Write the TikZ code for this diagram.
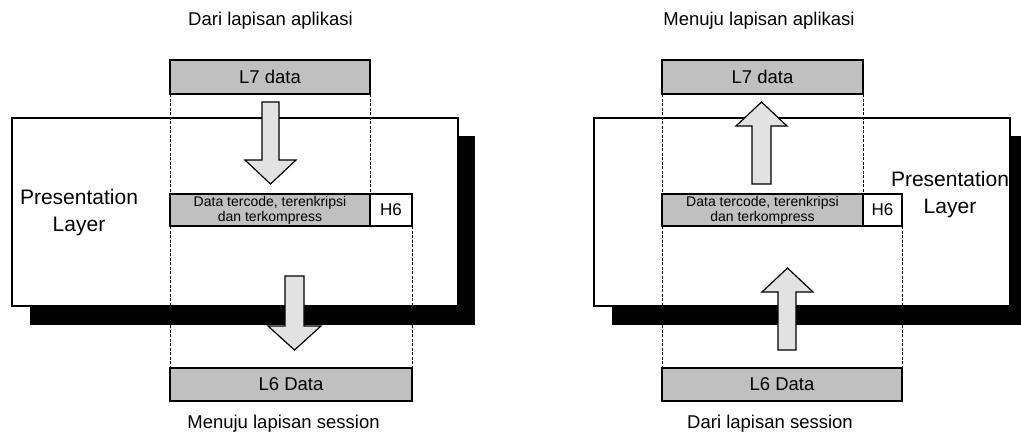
\documentclass[tikz,border=0pt]{standalone}
\usepackage{fontspec}
\setmainfont{Liberation Sans}
\definecolor{boxgray}{HTML}{C0C0C0}
\definecolor{arrowgray}{HTML}{E2E2E2}
\begin{document}
\begin{tikzpicture}[x=1pt,y=-1pt,
  layerbox/.style={draw=black, line width=1.2pt, fill=white},
  layershadow/.style={fill=black},
  pdu/.style={draw=black, line width=1.4pt, fill=boxgray, inner sep=0pt, outer sep=0pt,
    anchor=north west, font=\fontsize{18.5}{20}\selectfont},
  payload/.style={pdu, font=\fontsize{14}{15}\selectfont, align=center},
  header/.style={pdu, fill=white, font=\fontsize{17}{19}\selectfont},
  guide/.style={line width=0.8pt, dash pattern=on 3pt off 1.5pt},
  blockarrow/.style={draw=black, line width=1.2pt, fill=arrowgray, line join=miter},
  caption/.style={anchor=base, font=\fontsize{18.5}{20}\selectfont},
  layername/.style={align=center, font=\fontsize{21}{27}\selectfont},
]
\useasboundingbox (0,0) rectangle (1021,432);

% ---------------- sending side ----------------
\fill[layershadow] (30,136) rectangle (475,325);
\draw[layerbox] (12,118) rectangle (458,306);
\node[layername] (presA) at (79,213) {Presentation\\Layer};

\node[pdu, minimum width=200pt, minimum height=34pt] (l7A) at (170,60) {L7 data};
\node[payload, minimum width=200pt, minimum height=32pt] (dataA) at (170,194)
  {Data tercode, terenkripsi\\dan terkompress};
\node[header, minimum width=42pt, minimum height=32pt] (h6A) at (370,194) {H6};
\node[pdu, minimum width=242pt, minimum height=33pt] (l6A) at (170,368) {L6 Data};

\draw[guide] (l7A.south west) -- (dataA.north west);
\draw[guide] (l7A.south east) -- (dataA.north east);
\draw[guide] (dataA.south west) -- (l6A.north west);
\draw[guide] (h6A.south east) -- (l6A.north east);

% downward block arrows
\draw[blockarrow] (262,102) -- (279,102) -- (279,160) -- (296,160) -- (270.5,184)
  -- (245,160) -- (262,160) -- cycle;
\draw[blockarrow] (285,276) -- (304,276) -- (304,326) -- (321,326) -- (294.5,350)
  -- (268,326) -- (285,326) -- cycle;

\node[caption] (srcA) at (270.5,25) {Dari lapisan aplikasi};
\node[caption] (dstA) at (283.5,428) {Menuju lapisan session};

% ---------------- receiving side ----------------
\fill[layershadow] (612,136) rectangle (1028,325);
\draw[layerbox] (594,118) rectangle (1010,306);
\node[layername] (presB) at (950,195) {Presentation\\Layer};

\node[pdu, minimum width=201pt, minimum height=34pt] (l7B) at (662,60) {L7 data};
\node[payload, minimum width=201pt, minimum height=32pt] (dataB) at (662,194)
  {Data tercode, terenkripsi\\dan terkompress};
\node[header, minimum width=39pt, minimum height=32pt] (h6B) at (863,194) {H6};
\node[pdu, minimum width=240pt, minimum height=33pt] (l6B) at (662,368) {L6 Data};

\draw[guide] (l7B.south west) -- (dataB.north west);
\draw[guide] (l7B.south east) -- (dataB.north east);
\draw[guide] (dataB.south west) -- (l6B.north west);
\draw[guide] (h6B.south east) -- (l6B.north east);

% upward block arrows
\draw[blockarrow] (752,184) -- (771,184) -- (771,126) -- (787,126) -- (761.5,102)
  -- (736,126) -- (752,126) -- cycle;
\draw[blockarrow] (778,350) -- (796,350) -- (796,292) -- (813,292) -- (787.5,268)
  -- (762,292) -- (778,292) -- cycle;

\node[caption] (dstB) at (759,25) {Menuju lapisan aplikasi};
\node[caption] (srcB) at (770,428) {Dari lapisan session};
\end{tikzpicture}
\end{document}
